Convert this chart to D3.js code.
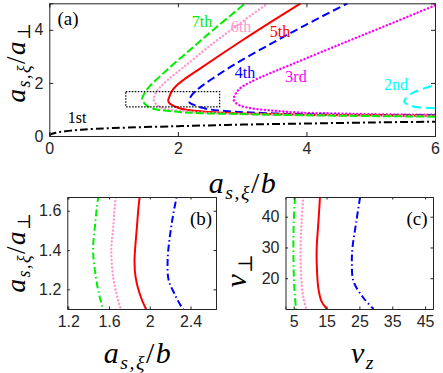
<!DOCTYPE html>
<html><head><meta charset="utf-8">
<script src="https://cdn.jsdelivr.net/npm/d3@7"></script>
<style>body{margin:0;background:#fff}svg{display:block}</style>
</head><body><svg id="chart" width="443" height="373"></svg>
<script>
// ---------------- data ----------------
const orderNames = ["1st","2nd","3rd","4th","5th","6th","7th"];
// panel (a)/(b): [a/b, a/a_perp]
const curve1st = [[0,0],[0.02,0.06],[0.1,0.12],[0.25,0.18],[0.5,0.24],[1,0.3],[2,0.37],[3,0.43],[4,0.47],[5,0.51],[6,0.54]];
const curve2nd = [[6,1.05],[5.8,1.07],[5.62,1.14],[5.52,1.3],[5.56,1.45],[5.65,1.62],[5.8,1.77],[6,1.92]];
const curve3rd = [[6,0.8],[5,0.82],[4.43,0.85],[3.91,0.88],[3.5,0.95],[3.13,1.05],[2.95,1.17],[2.87,1.36],[2.9,1.6],[2.98,1.82],[3.12,2.02],[3.39,2.32],[3.75,2.68],[4.5,3.43],[5.25,4.17],[6,4.92]];
const curve4th = [[6,0.78],[5,0.79],[4.43,0.8],[3.5,0.85],[2.87,0.92],[2.5,1.0],[2.32,1.105],[2.24,1.18],[2.185,1.247],[2.175,1.347],[2.205,1.5],[2.26,1.66],[2.36,1.86],[2.5,2.1],[2.87,2.68],[3.39,3.4],[4.0,4.2],[4.64,5.0]];
const curve5th = [[6,0.76],[5,0.78],[4,0.8],[3.2,0.84],[2.6,0.89],[2.25,0.95],[2.05,1.03],[1.958,1.105],[1.899,1.18],[1.86,1.263],[1.85,1.347],[1.873,1.513],[1.899,1.663],[1.98,1.9],[2.12,2.17],[2.35,2.55],[2.975,3.56],[3.45,4.3],[3.91,5.0]];
const curve6th = [[6,0.75],[5,0.77],[4,0.79],[3.0,0.83],[2.5,0.87],[2.1,0.93],[1.85,1.0],[1.75,1.06],[1.71,1.11],[1.672,1.18],[1.64,1.263],[1.622,1.397],[1.64,1.513],[1.665,1.663],[1.74,1.88],[1.86,2.15],[2.09,2.6],[2.5,3.4],[2.95,4.22],[3.4,5.0]];
const curve7th = [[6,0.73],[5,0.75],[4,0.78],[3.13,0.82],[2.35,0.86],[2.0,0.91],[1.73,0.98],[1.6,1.04],[1.54,1.105],[1.5,1.18],[1.47,1.263],[1.443,1.397],[1.46,1.513],[1.492,1.663],[1.57,1.9],[1.7,2.2],[1.83,2.49],[2.2,3.27],[2.6,4.1],[3.05,5.0]];
// zoom window drawn in (a) and used as domain of (b)
const zoomBox = [[1.19,1.1],[2.65,1.67]];
// panel (c): [v_z, v_perp]
const vel4th = [[25.2,46.4],[24,38],[22.9,30],[22.7,25],[23.2,19],[26.3,13.5],[29.3,10]];
const vel5th = [[13.0,46.4],[12.5,38],[12.0,30],[12.0,25],[12.5,16.7],[13.5,12.4],[15.1,10]];
const vel6th = [[7.9,46.4],[7.4,38],[7.1,30],[7.3,20],[7.9,14],[8.8,10]];
const vel7th = [[5.4,46.4],[5.0,38],[4.9,30.6],[5.0,22],[5.3,15],[5.7,10]];
// ticks
const ticksAX = [0,2,4,6], ticksAY = [0,2,4];
const ticksBX = [1.2,1.6,2,2.4], ticksBY = [1.2,1.4,1.6];
const ticksCX = [5,15,25,35,45], ticksCY = [20,30,40];

// ---------------- styles ----------------
const C = {k:"#000000", c:"#00ffff", m:"#ff00ff", b:"#0000ff", r:"#ff0000", p:"#ff99cc", g:"#00ee00"};
const AX = "#262626";
const svg = d3.select("#chart");
const tickFont = "'Liberation Sans', Arial, sans-serif";
const mathFont = "'Liberation Serif', 'DejaVu Serif', serif";

function panel(id, box, xDom, yDom, xt, yt, tickLen) {
  const x = d3.scaleLinear().domain(xDom).range([box.l, box.r]);
  const y = d3.scaleLinear().domain(yDom).range([box.b, box.t]);
  const g = svg.append("g");
  g.append("clipPath").attr("id", id).append("rect")
    .attr("x", box.l).attr("y", box.t).attr("width", box.r-box.l).attr("height", box.b-box.t);
  const plot = g.append("g").attr("clip-path", `url(#${id})`);
  const frame = g.append("g");
  const bottom = d3.axisBottom(x).tickValues(xt).tickSize(-tickLen).tickPadding(7).tickFormat(d3.format("~g"));
  const top = d3.axisTop(x).tickValues(xt).tickSize(-tickLen).tickFormat("");
  const left = d3.axisLeft(y).tickValues(yt).tickSize(-tickLen).tickPadding(6).tickFormat(d3.format("~g"));
  const right = d3.axisRight(y).tickValues(yt).tickSize(-tickLen).tickFormat("");
  const put = (ax, tr) => {
    const a = frame.append("g").attr("transform", tr).call(ax);
    a.select(".domain").attr("stroke", AX).attr("stroke-width", 1);
    a.selectAll(".tick line").attr("stroke", AX).attr("stroke-width", 1);
    a.selectAll("text").attr("fill", AX).style("font-family", tickFont).style("font-size", "16px");
    return a;
  };
  put(bottom, `translate(0,${box.b})`);
  put(top, `translate(0,${box.t})`);
  put(left, `translate(${box.l},0)`);
  put(right, `translate(${box.r},0)`);
  return {x, y, plot, g};
}

function drawCurve(p, data, color, dash, w) {
  const line = d3.line().x(d => p.x(d[0])).y(d => p.y(d[1])).curve(d3.curveCatmullRom.alpha(0.5));
  p.plot.append("path").datum(data).attr("d", line)
    .attr("fill", "none").attr("stroke", color).attr("stroke-width", w || 2)
    .attr("stroke-dasharray", dash).attr("stroke-linecap", dash && dash.startsWith("0.") ? "round" : "butt");
}

function mathText(parent, x, y, parts, size, rotate) {
  const t = parent.append("text").attr("x", x).attr("y", y)
    .attr("text-anchor", "middle").attr("fill", "#000")
    .style("font-family", mathFont).style("font-size", size + "px")
    .style("letter-spacing", "1.5px");
  if (rotate) t.attr("transform", `rotate(-90,${x},${y})`);
  parts.forEach(pt => {
    const s = t.append("tspan").text(pt.t)
      .style("font-style", pt.i ? "italic" : "normal");
    if (pt.sub) s.attr("dy", size*0.2).style("font-size", (size*0.66)+"px");
    if (pt.back) s.attr("dy", -size*0.2);
  });
  return t;
}
const labAB = [{t:"a",i:1},{t:"s,ξ",i:1,sub:1},{t:"/",back:1},{t:"b",i:1}];
const labAA = [{t:"a",i:1},{t:"s,ξ",i:1,sub:1},{t:"/",back:1},{t:"a",i:1},{t:"⊥",sub:1}];

// ---------------- panel (a) ----------------
const pa = panel("clipA", {l:49.3, r:435, t:3.3, b:136}, [0,6], [0,5], ticksAX, ticksAY, 4);
drawCurve(pa, curve1st, C.k, "8,3,2,3");
drawCurve(pa, curve2nd, C.c, "9,5");
drawCurve(pa, curve3rd, C.m, "0.1,3.6", 2.4);
drawCurve(pa, curve4th, C.b, "8,4");
drawCurve(pa, curve5th, C.r, null);
drawCurve(pa, curve6th, C.p, "0.1,3.6", 2.4);
drawCurve(pa, curve7th, C.g, "8,3");
pa.plot.append("rect")
  .attr("x", pa.x(zoomBox[0][0])).attr("y", pa.y(zoomBox[1][1]))
  .attr("width", pa.x(zoomBox[1][0]) - pa.x(zoomBox[0][0]))
  .attr("height", pa.y(zoomBox[0][1]) - pa.y(zoomBox[1][1]))
  .attr("fill", "none").attr("stroke", "#000").attr("stroke-width", 1.2).attr("stroke-dasharray", "1.5,1.5");
const orderLabelPos = [[77,118],[396,85],[296,77],[245,73],[280,32],[241,27],[202,22]];
const orderColors = [C.k, C.c, C.m, C.b, C.r, C.p, C.g];
orderNames.forEach((n, i) => {
  svg.append("text").attr("x", orderLabelPos[i][0]).attr("y", orderLabelPos[i][1] + 5)
    .attr("text-anchor", "middle").attr("fill", orderColors[i])
    .style("font-family", mathFont).style("font-size", "16px").text(n);
});
svg.append("text").attr("x", 68).attr("y", 25).attr("text-anchor", "middle")
  .style("font-family", mathFont).style("font-size", "19px").text("(a)");
mathText(svg, 243, 193, labAB, 30);
mathText(svg, 25, 62, labAA, 27, true);

// ---------------- panel (b) ----------------
const pb = panel("clipB", {l:67.3, r:216, t:197, b:309}, [zoomBox[0][0], zoomBox[1][0]], [zoomBox[0][1], zoomBox[1][1]], ticksBX, ticksBY, 2.5);
drawCurve(pb, curve4th, C.b, "7,3,1.5,3");
drawCurve(pb, curve5th, C.r, null);
drawCurve(pb, curve6th, C.p, "0.1,3.6", 2.4);
drawCurve(pb, curve7th, C.g, "7,3,1.5,3");
svg.append("text").attr("x", 201).attr("y", 225).attr("text-anchor", "middle")
  .style("font-family", mathFont).style("font-size", "19px").text("(b)");
mathText(svg, 138, 363, labAB, 30);
mathText(svg, 25, 252, labAA, 27, true);

// ---------------- panel (c) ----------------
const pc = panel("clipC", {l:285.5, r:433, t:197, b:309}, [2.5, 47.4], [10, 46.4], ticksCX, ticksCY, 2.5);
drawCurve(pc, vel4th, C.b, "7,3,1.5,3");
drawCurve(pc, vel5th, C.r, null);
drawCurve(pc, vel6th, C.p, "0.1,3.6", 2.4);
drawCurve(pc, vel7th, C.g, "7,3,1.5,3");
svg.append("text").attr("x", 417).attr("y", 225).attr("text-anchor", "middle")
  .style("font-family", mathFont).style("font-size", "19px").text("(c)");
mathText(svg, 363, 363, [{t:"v",i:1},{t:"z",i:1,sub:1}], 30);
mathText(svg, 246, 270, [{t:"v",i:1},{t:"⊥",sub:1}], 30, true);
</script></body></html>
